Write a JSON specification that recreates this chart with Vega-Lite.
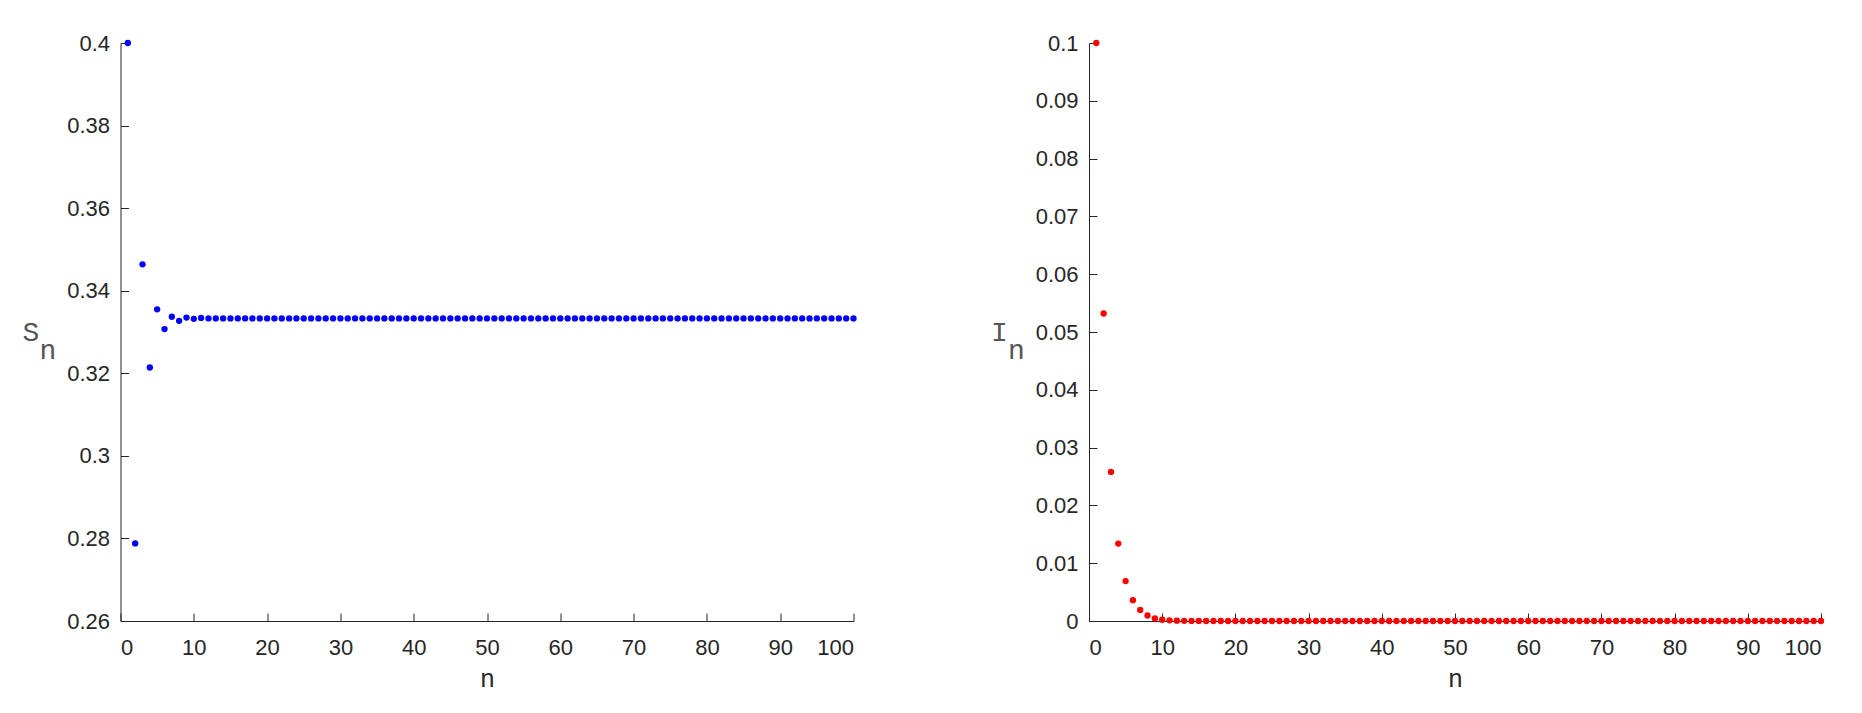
{
  "$schema": "https://vega.github.io/schema/vega-lite/v6.json",
  "padding": {"left": 21.5, "top": 32, "right": 5, "bottom": 5},
  "background": "white",
  "datasets": {
    "seq": [
      {"n": 1, "S": 0.4, "I": 0.1},
      {"n": 2, "S": 0.2788, "I": 0.0532},
      {"n": 3, "S": 0.3464, "I": 0.0258},
      {"n": 4, "S": 0.3214, "I": 0.0134},
      {"n": 5, "S": 0.3355, "I": 0.0069},
      {"n": 6, "S": 0.3307, "I": 0.0036},
      {"n": 7, "S": 0.3337, "I": 0.0019},
      {"n": 8, "S": 0.3327, "I": 0.00095},
      {"n": 9, "S": 0.3335, "I": 0.00045},
      {"n": 10, "S": 0.3332, "I": 0.00022},
      {"n": 11, "S": 0.3334, "I": 0.00012},
      {"n": 12, "S": 0.3333, "I": 0.00006},
      {"n": 13, "S": 0.3333, "I": 0.00003},
      {"n": 14, "S": 0.3333, "I": 0.000016},
      {"n": 15, "S": 0.3333, "I": 0.000008},
      {"n": 16, "S": 0.3333, "I": 0.000004},
      {"n": 17, "S": 0.3333, "I": 0.000002},
      {"n": 18, "S": 0.3333, "I": 0.000001},
      {"n": 19, "S": 0.3333, "I": 0},
      {"n": 20, "S": 0.3333, "I": 0},
      {"n": 21, "S": 0.3333, "I": 0},
      {"n": 22, "S": 0.3333, "I": 0},
      {"n": 23, "S": 0.3333, "I": 0},
      {"n": 24, "S": 0.3333, "I": 0},
      {"n": 25, "S": 0.3333, "I": 0},
      {"n": 26, "S": 0.3333, "I": 0},
      {"n": 27, "S": 0.3333, "I": 0},
      {"n": 28, "S": 0.3333, "I": 0},
      {"n": 29, "S": 0.3333, "I": 0},
      {"n": 30, "S": 0.3333, "I": 0},
      {"n": 31, "S": 0.3333, "I": 0},
      {"n": 32, "S": 0.3333, "I": 0},
      {"n": 33, "S": 0.3333, "I": 0},
      {"n": 34, "S": 0.3333, "I": 0},
      {"n": 35, "S": 0.3333, "I": 0},
      {"n": 36, "S": 0.3333, "I": 0},
      {"n": 37, "S": 0.3333, "I": 0},
      {"n": 38, "S": 0.3333, "I": 0},
      {"n": 39, "S": 0.3333, "I": 0},
      {"n": 40, "S": 0.3333, "I": 0},
      {"n": 41, "S": 0.3333, "I": 0},
      {"n": 42, "S": 0.3333, "I": 0},
      {"n": 43, "S": 0.3333, "I": 0},
      {"n": 44, "S": 0.3333, "I": 0},
      {"n": 45, "S": 0.3333, "I": 0},
      {"n": 46, "S": 0.3333, "I": 0},
      {"n": 47, "S": 0.3333, "I": 0},
      {"n": 48, "S": 0.3333, "I": 0},
      {"n": 49, "S": 0.3333, "I": 0},
      {"n": 50, "S": 0.3333, "I": 0},
      {"n": 51, "S": 0.3333, "I": 0},
      {"n": 52, "S": 0.3333, "I": 0},
      {"n": 53, "S": 0.3333, "I": 0},
      {"n": 54, "S": 0.3333, "I": 0},
      {"n": 55, "S": 0.3333, "I": 0},
      {"n": 56, "S": 0.3333, "I": 0},
      {"n": 57, "S": 0.3333, "I": 0},
      {"n": 58, "S": 0.3333, "I": 0},
      {"n": 59, "S": 0.3333, "I": 0},
      {"n": 60, "S": 0.3333, "I": 0},
      {"n": 61, "S": 0.3333, "I": 0},
      {"n": 62, "S": 0.3333, "I": 0},
      {"n": 63, "S": 0.3333, "I": 0},
      {"n": 64, "S": 0.3333, "I": 0},
      {"n": 65, "S": 0.3333, "I": 0},
      {"n": 66, "S": 0.3333, "I": 0},
      {"n": 67, "S": 0.3333, "I": 0},
      {"n": 68, "S": 0.3333, "I": 0},
      {"n": 69, "S": 0.3333, "I": 0},
      {"n": 70, "S": 0.3333, "I": 0},
      {"n": 71, "S": 0.3333, "I": 0},
      {"n": 72, "S": 0.3333, "I": 0},
      {"n": 73, "S": 0.3333, "I": 0},
      {"n": 74, "S": 0.3333, "I": 0},
      {"n": 75, "S": 0.3333, "I": 0},
      {"n": 76, "S": 0.3333, "I": 0},
      {"n": 77, "S": 0.3333, "I": 0},
      {"n": 78, "S": 0.3333, "I": 0},
      {"n": 79, "S": 0.3333, "I": 0},
      {"n": 80, "S": 0.3333, "I": 0},
      {"n": 81, "S": 0.3333, "I": 0},
      {"n": 82, "S": 0.3333, "I": 0},
      {"n": 83, "S": 0.3333, "I": 0},
      {"n": 84, "S": 0.3333, "I": 0},
      {"n": 85, "S": 0.3333, "I": 0},
      {"n": 86, "S": 0.3333, "I": 0},
      {"n": 87, "S": 0.3333, "I": 0},
      {"n": 88, "S": 0.3333, "I": 0},
      {"n": 89, "S": 0.3333, "I": 0},
      {"n": 90, "S": 0.3333, "I": 0},
      {"n": 91, "S": 0.3333, "I": 0},
      {"n": 92, "S": 0.3333, "I": 0},
      {"n": 93, "S": 0.3333, "I": 0},
      {"n": 94, "S": 0.3333, "I": 0},
      {"n": 95, "S": 0.3333, "I": 0},
      {"n": 96, "S": 0.3333, "I": 0},
      {"n": 97, "S": 0.3333, "I": 0},
      {"n": 98, "S": 0.3333, "I": 0},
      {"n": 99, "S": 0.3333, "I": 0},
      {"n": 100, "S": 0.3333, "I": 0}
    ]
  },
  "spacing": 132.5,
  "hconcat": [
    {
      "width": 733,
      "height": 578,
      "data": {"name": "seq"},
      "mark": {"type": "point", "filled": true, "size": 40, "opacity": 1, "color": "#0000ff"},
      "encoding": {
        "x": {"field": "n", "type": "quantitative", "scale": {"domain": [0, 100], "nice": false},
              "axis": {"values": [0,10,20,30,40,50,60,70,80,90,100], "format": "d", "title": "n"}},
        "y": {"field": "S", "type": "quantitative", "scale": {"domain": [0.26, 0.4], "nice": false, "zero": false},
              "axis": {"values": [0.26,0.28,0.3,0.32,0.34,0.36,0.38,0.4], "format": ".2~f", "title": ["S\u00a0\u200b", "\u200b\u00a0n"]}}
      }
    },
    {
      "width": 732,
      "height": 578,
      "data": {"name": "seq"},
      "mark": {"type": "point", "filled": true, "size": 40, "opacity": 1, "color": "#ff0000"},
      "encoding": {
        "x": {"field": "n", "type": "quantitative", "scale": {"domain": [0, 100], "nice": false},
              "axis": {"values": [0,10,20,30,40,50,60,70,80,90,100], "format": "d", "title": "n"}},
        "y": {"field": "I", "type": "quantitative", "scale": {"domain": [0, 0.1], "nice": false},
              "axis": {"values": [0,0.01,0.02,0.03,0.04,0.05,0.06,0.07,0.08,0.09,0.1], "format": ".2~f", "title": ["I\u00a0\u200b", "\u200b\u00a0n"]}}
      }
    }
  ],
  "config": {
    "view": {"stroke": null},
    "axis": {
      "grid": false,
      "domainColor": "#262626",
      "tickColor": "#262626",
      "labelColor": "#262626",
      "labelFont": "Liberation Sans",
      "labelFontSize": 22,
      "tickSize": -8,
      "titleFontWeight": "normal"
    },
    "axisX": {
      "labelPadding": 24,
      "titleFont": "Liberation Sans",
      "titleFontSize": 25,
      "titleColor": "#262626",
      "titlePadding": 8
    },
    "axisY": {
      "labelPadding": 19,
      "titleFont": "Liberation Mono",
      "titleFontSize": 28,
      "titleColor": "#555555",
      "titleAngle": 0,
      "titleAlign": "right",
      "titleBaseline": "middle",
      "titleLineHeight": 18,
      "titlePadding": -7
    }
  }
}
